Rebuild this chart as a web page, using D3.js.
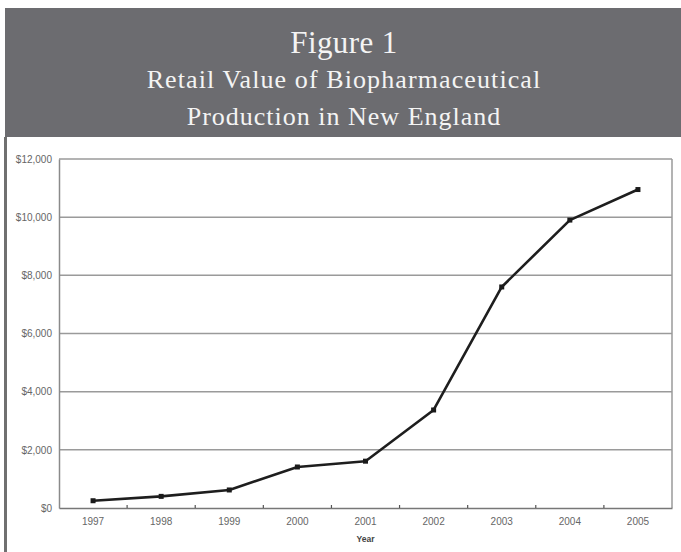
<!DOCTYPE html>
<html><head><meta charset="utf-8">
<script src="https://cdn.jsdelivr.net/npm/d3@7"></script>
<style>html,body{margin:0;padding:0;background:#fff;}svg{display:block;}</style>
</head><body>
<script>
const years = ["1997","1998","1999","2000","2001","2002","2003","2004","2005"];
const values = [250, 400, 620, 1410, 1610, 3370, 7600, 9900, 10950];
const yTicks = [0, 2000, 4000, 6000, 8000, 10000, 12000];
const titleLines = ["Figure 1", "Retail Value of Biopharmaceutical", "Production in New England"];
const xTitle = "Year";

const W = 681, H = 552;
const svg = d3.select("body").append("svg").attr("width", W).attr("height", H);

// header band
svg.append("rect").attr("x", 5).attr("y", 8).attr("width", W - 5).attr("height", 129).attr("fill", "#6c6c70");
// left border
svg.append("rect").attr("x", 4).attr("y", 137).attr("width", 3).attr("height", H - 137).attr("fill", "#707070");

const tSizes = [31, 26, 26], tY = [53, 88, 125], tLS = [0.4, 1.1, 1.0];
svg.selectAll("text.title").data(titleLines).join("text")
  .attr("class", "title")
  .attr("x", 344).attr("y", (d, i) => tY[i])
  .attr("text-anchor", "middle")
  .attr("font-family", "'Liberation Serif', 'DejaVu Serif', serif")
  .attr("font-size", (d, i) => tSizes[i])
  .attr("letter-spacing", (d, i) => tLS[i])
  .attr("fill", "#f4f4f4")
  .text(d => d);

const m = {left: 59, right: 672, top: 159, bottom: 508};
const x = d3.scaleBand().domain(years).range([m.left, m.right]);
const y = d3.scaleLinear().domain([0, 12000]).range([m.bottom, m.top]);

// gridlines
svg.append("g").selectAll("line").data(yTicks.filter(d => d > 0)).join("line")
  .attr("x1", m.left).attr("x2", m.right)
  .attr("y1", d => y(d)).attr("y2", d => y(d))
  .attr("stroke", "#9a9a9a").attr("stroke-width", 1.5);

// frame right
svg.append("line").attr("x1", m.right).attr("x2", m.right).attr("y1", m.top).attr("y2", m.bottom)
  .attr("stroke", "#9a9a9a").attr("stroke-width", 1.5);

const tickFont = "'Liberation Sans', Arial, sans-serif";
// y axis
const yAxis = svg.append("g").attr("transform", `translate(${m.left},0)`)
  .call(d3.axisLeft(y).tickValues(yTicks).tickSize(0).tickPadding(7)
    .tickFormat(d => "$" + d3.format(",")(d)));
yAxis.select(".domain").attr("stroke", "#8a8a8a").attr("stroke-width", 1.5);
yAxis.selectAll("text").attr("font-family", tickFont)
  .attr("font-size", 10).attr("fill", "#666");

// x axis
const xAxis = svg.append("g").attr("transform", `translate(0,${m.bottom})`)
  .call(d3.axisBottom(x).tickSize(0).tickPadding(10));
xAxis.select(".domain").attr("stroke", "#777").attr("stroke-width", 1.5);
xAxis.selectAll("text").attr("font-family", tickFont)
  .attr("font-size", 10).attr("fill", "#666");
// tick marks between categories
svg.append("g").selectAll("line").data(years.slice(1)).join("line")
  .attr("x1", d => x(d)).attr("x2", d => x(d))
  .attr("y1", m.bottom).attr("y2", m.bottom - 3)
  .attr("stroke", "#555").attr("stroke-width", 1.2);

svg.append("text").attr("x", x("2001") + x.bandwidth() / 2).attr("y", 542)
  .attr("text-anchor", "middle")
  .attr("font-family", tickFont)
  .attr("font-size", 8.5).attr("font-weight", "bold").attr("fill", "#444")
  .text(xTitle);

// line
const pts = years.map((d, i) => [x(d) + x.bandwidth() / 2, y(values[i])]);
svg.append("path").datum(pts)
  .attr("d", d3.line())
  .attr("fill", "none").attr("stroke", "#1e1e1e").attr("stroke-width", 2.6)
  .attr("stroke-linejoin", "round");
svg.append("g").selectAll("rect").data(pts).join("rect")
  .attr("x", d => d[0] - 2.5).attr("y", d => d[1] - 2.5)
  .attr("width", 5).attr("height", 5).attr("fill", "#1a1a1a");
</script>
</body></html>
